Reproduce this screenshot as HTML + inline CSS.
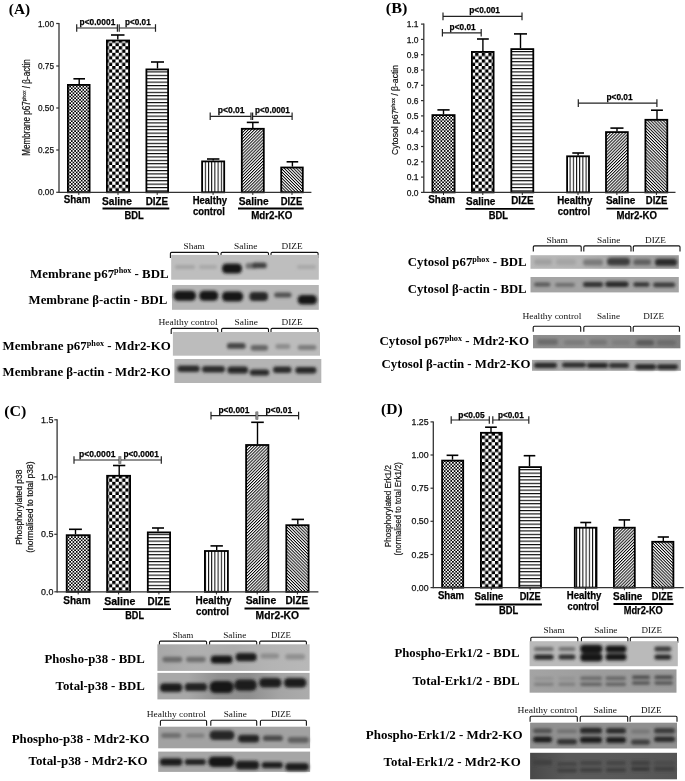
<!DOCTYPE html>
<html><head><meta charset="utf-8"><title>Figure</title>
<style>html,body{margin:0;padding:0;background:#fff;}svg{display:block;}</style></head>
<body>
<svg width="685" height="781" viewBox="0 0 685 781">
<defs>
<pattern id="pfine" patternUnits="userSpaceOnUse" width="3.3" height="3.3"><rect width="3.3" height="3.3" fill="#fff"/><rect width="1.65" height="1.65" fill="#000"/><rect x="1.65" y="1.65" width="1.65" height="1.65" fill="#000"/></pattern>
<pattern id="pbig" patternUnits="userSpaceOnUse" width="6.6" height="6.6"><rect width="6.6" height="6.6" fill="#fff"/><rect width="3.3" height="3.3" fill="#000"/><rect x="3.3" y="3.3" width="3.3" height="3.3" fill="#000"/></pattern>
<pattern id="phl" patternUnits="userSpaceOnUse" width="10" height="3.4"><rect width="10" height="3.4" fill="#fff"/><rect y="0" width="10" height="1.1" fill="#000"/></pattern>
<pattern id="pvl" patternUnits="userSpaceOnUse" width="3.2" height="10"><rect width="3.2" height="10" fill="#fff"/><rect x="0" width="1.0" height="10" fill="#000"/></pattern>
<pattern id="pd1" patternUnits="userSpaceOnUse" width="2.17" height="2.17" patternTransform="rotate(-45)"><rect width="2.17" height="2.17" fill="#fff"/><rect width="2.17" height="0.95" fill="#000"/></pattern>
<pattern id="pd2" patternUnits="userSpaceOnUse" width="2.17" height="2.17" patternTransform="rotate(45)"><rect width="2.17" height="2.17" fill="#fff"/><rect width="2.17" height="0.95" fill="#000"/></pattern>
<filter id="bl" x="-30%" y="-60%" width="160%" height="220%"><feGaussianBlur stdDeviation="1.5"/></filter>
</defs>
<rect width="685" height="781" fill="#fff"/>

<text x="8.8" y="13.8" font-family="'Liberation Serif', 'Times New Roman', serif" font-size="15" font-weight="bold" fill="#000" textLength="21.2" lengthAdjust="spacingAndGlyphs" >(A)</text>
<line x1="59.0" y1="23.0" x2="59.0" y2="192.9" stroke="#333" stroke-width="1.3"/>
<line x1="56.2" y1="23.5" x2="59.0" y2="23.5" stroke="#333" stroke-width="1.2"/>
<text x="38.0" y="26.6" font-family="'Liberation Sans', Arial, sans-serif" font-size="9.4" font-weight="normal" fill="#111" stroke="#111" stroke-width="0.25" textLength="16.0" lengthAdjust="spacingAndGlyphs" >1.00</text>
<line x1="56.2" y1="66.0" x2="59.0" y2="66.0" stroke="#333" stroke-width="1.2"/>
<text x="38.0" y="69.1" font-family="'Liberation Sans', Arial, sans-serif" font-size="9.4" font-weight="normal" fill="#111" stroke="#111" stroke-width="0.25" textLength="16.0" lengthAdjust="spacingAndGlyphs" >0.75</text>
<line x1="56.2" y1="108.0" x2="59.0" y2="108.0" stroke="#333" stroke-width="1.2"/>
<text x="38.0" y="111.1" font-family="'Liberation Sans', Arial, sans-serif" font-size="9.4" font-weight="normal" fill="#111" stroke="#111" stroke-width="0.25" textLength="16.0" lengthAdjust="spacingAndGlyphs" >0.50</text>
<line x1="56.2" y1="150.0" x2="59.0" y2="150.0" stroke="#333" stroke-width="1.2"/>
<text x="38.0" y="153.1" font-family="'Liberation Sans', Arial, sans-serif" font-size="9.4" font-weight="normal" fill="#111" stroke="#111" stroke-width="0.25" textLength="16.0" lengthAdjust="spacingAndGlyphs" >0.25</text>
<line x1="56.2" y1="192.3" x2="59.0" y2="192.3" stroke="#333" stroke-width="1.2"/>
<text x="38.0" y="195.4" font-family="'Liberation Sans', Arial, sans-serif" font-size="9.4" font-weight="normal" fill="#111" stroke="#111" stroke-width="0.25" textLength="16.0" lengthAdjust="spacingAndGlyphs" >0.00</text>
<rect x="67.90" y="84.90" width="21.70" height="107.40" fill="url(#pfine)" stroke="#000" stroke-width="1.8"/>
<line x1="79.2" y1="78.8" x2="79.2" y2="84.0" stroke="#000" stroke-width="1.4"/>
<line x1="73.4" y1="78.8" x2="85.0" y2="78.8" stroke="#000" stroke-width="1.6"/>
<rect x="106.90" y="40.50" width="22.20" height="151.80" fill="url(#pbig)" stroke="#000" stroke-width="1.8"/>
<line x1="117.8" y1="35.0" x2="117.8" y2="39.6" stroke="#000" stroke-width="1.4"/>
<line x1="111.0" y1="35.0" x2="124.5" y2="35.0" stroke="#000" stroke-width="1.6"/>
<rect x="146.40" y="69.40" width="21.70" height="122.90" fill="url(#phl)" stroke="#000" stroke-width="1.8"/>
<line x1="157.5" y1="62.0" x2="157.5" y2="68.5" stroke="#000" stroke-width="1.4"/>
<line x1="151.0" y1="62.0" x2="164.0" y2="62.0" stroke="#000" stroke-width="1.6"/>
<rect x="202.10" y="161.40" width="22.10" height="30.90" fill="url(#pvl)" stroke="#000" stroke-width="1.8"/>
<line x1="213.2" y1="159.0" x2="213.2" y2="160.5" stroke="#000" stroke-width="1.4"/>
<line x1="207.0" y1="159.0" x2="219.4" y2="159.0" stroke="#000" stroke-width="1.6"/>
<rect x="241.80" y="128.80" width="22.00" height="63.50" fill="url(#pd1)" stroke="#000" stroke-width="1.8"/>
<line x1="252.8" y1="122.4" x2="252.8" y2="127.9" stroke="#000" stroke-width="1.4"/>
<line x1="246.8" y1="122.4" x2="258.8" y2="122.4" stroke="#000" stroke-width="1.6"/>
<rect x="281.20" y="167.50" width="21.60" height="24.80" fill="url(#pd2)" stroke="#000" stroke-width="1.8"/>
<line x1="292.4" y1="161.8" x2="292.4" y2="166.6" stroke="#000" stroke-width="1.4"/>
<line x1="286.6" y1="161.8" x2="298.2" y2="161.8" stroke="#000" stroke-width="1.6"/>
<line x1="59.0" y1="192.3" x2="311.4" y2="192.3" stroke="#333" stroke-width="1.3"/>
<line x1="78.8" y1="192.3" x2="78.8" y2="194.9" stroke="#222" stroke-width="1.0"/>
<line x1="118.0" y1="192.3" x2="118.0" y2="194.9" stroke="#222" stroke-width="1.0"/>
<line x1="157.2" y1="192.3" x2="157.2" y2="194.9" stroke="#222" stroke-width="1.0"/>
<line x1="213.1" y1="192.3" x2="213.1" y2="194.9" stroke="#222" stroke-width="1.0"/>
<line x1="252.8" y1="192.3" x2="252.8" y2="194.9" stroke="#222" stroke-width="1.0"/>
<line x1="292.0" y1="192.3" x2="292.0" y2="194.9" stroke="#222" stroke-width="1.0"/>
<line x1="76.7" y1="28.0" x2="117.4" y2="28.0" stroke="#222" stroke-width="1.2"/>
<line x1="76.7" y1="24.2" x2="76.7" y2="31.8" stroke="#222" stroke-width="1.2"/>
<line x1="117.4" y1="24.2" x2="117.4" y2="31.8" stroke="#222" stroke-width="1.2"/>
<line x1="119.2" y1="28.0" x2="155.5" y2="28.0" stroke="#222" stroke-width="1.2"/>
<line x1="119.2" y1="24.2" x2="119.2" y2="31.8" stroke="#222" stroke-width="1.2"/>
<line x1="155.5" y1="24.2" x2="155.5" y2="31.8" stroke="#222" stroke-width="1.2"/>
<text x="79.6" y="24.7" font-family="'Liberation Sans', Arial, sans-serif" font-size="9.8" font-weight="bold" fill="#000" stroke="#000" stroke-width="0.25" textLength="35.7" lengthAdjust="spacingAndGlyphs" >p&lt;0.0001</text>
<text x="125.0" y="24.7" font-family="'Liberation Sans', Arial, sans-serif" font-size="9.8" font-weight="bold" fill="#000" stroke="#000" stroke-width="0.25" textLength="25.7" lengthAdjust="spacingAndGlyphs" >p&lt;0.01</text>
<line x1="210.2" y1="116.3" x2="251.0" y2="116.3" stroke="#222" stroke-width="1.2"/>
<line x1="210.2" y1="112.5" x2="210.2" y2="120.1" stroke="#222" stroke-width="1.2"/>
<line x1="251.0" y1="112.5" x2="251.0" y2="120.1" stroke="#222" stroke-width="1.2"/>
<line x1="252.6" y1="116.3" x2="292.1" y2="116.3" stroke="#222" stroke-width="1.2"/>
<line x1="252.6" y1="112.5" x2="252.6" y2="120.1" stroke="#222" stroke-width="1.2"/>
<line x1="292.1" y1="112.5" x2="292.1" y2="120.1" stroke="#222" stroke-width="1.2"/>
<text x="217.7" y="113.4" font-family="'Liberation Sans', Arial, sans-serif" font-size="9.8" font-weight="bold" fill="#000" stroke="#000" stroke-width="0.25" textLength="26.9" lengthAdjust="spacingAndGlyphs" >p&lt;0.01</text>
<text x="255.1" y="113.4" font-family="'Liberation Sans', Arial, sans-serif" font-size="9.8" font-weight="bold" fill="#000" stroke="#000" stroke-width="0.25" textLength="34.8" lengthAdjust="spacingAndGlyphs" >p&lt;0.0001</text>
<text x="63.8" y="203.0" font-family="'Liberation Sans', Arial, sans-serif" font-size="10.2" font-weight="bold" fill="#000" stroke="#000" stroke-width="0.25" textLength="26.7" lengthAdjust="spacingAndGlyphs" >Sham</text>
<text x="102.0" y="204.5" font-family="'Liberation Sans', Arial, sans-serif" font-size="10.2" font-weight="bold" fill="#000" stroke="#000" stroke-width="0.25" textLength="30.0" lengthAdjust="spacingAndGlyphs" >Saline</text>
<text x="145.7" y="204.5" font-family="'Liberation Sans', Arial, sans-serif" font-size="10.2" font-weight="bold" fill="#000" stroke="#000" stroke-width="0.25" textLength="22.5" lengthAdjust="spacingAndGlyphs" >DIZE</text>
<text x="192.7" y="203.6" font-family="'Liberation Sans', Arial, sans-serif" font-size="10.2" font-weight="bold" fill="#000" stroke="#000" stroke-width="0.25" textLength="34.3" lengthAdjust="spacingAndGlyphs" >Healthy</text>
<text x="193.0" y="215.0" font-family="'Liberation Sans', Arial, sans-serif" font-size="10.2" font-weight="bold" fill="#000" stroke="#000" stroke-width="0.25" textLength="32.0" lengthAdjust="spacingAndGlyphs" >control</text>
<text x="238.7" y="204.5" font-family="'Liberation Sans', Arial, sans-serif" font-size="10.2" font-weight="bold" fill="#000" stroke="#000" stroke-width="0.25" textLength="30.0" lengthAdjust="spacingAndGlyphs" >Saline</text>
<text x="280.7" y="204.5" font-family="'Liberation Sans', Arial, sans-serif" font-size="10.2" font-weight="bold" fill="#000" stroke="#000" stroke-width="0.25" textLength="21.5" lengthAdjust="spacingAndGlyphs" >DIZE</text>
<line x1="102.5" y1="208.5" x2="169.3" y2="208.5" stroke="#000" stroke-width="1.8"/>
<text x="124.4" y="219.0" font-family="'Liberation Sans', Arial, sans-serif" font-size="10.2" font-weight="bold" fill="#000" stroke="#000" stroke-width="0.25" textLength="19.3" lengthAdjust="spacingAndGlyphs" >BDL</text>
<line x1="238.0" y1="208.5" x2="303.7" y2="208.5" stroke="#000" stroke-width="1.8"/>
<text x="251.2" y="219.0" font-family="'Liberation Sans', Arial, sans-serif" font-size="10.2" font-weight="bold" fill="#000" stroke="#000" stroke-width="0.25" textLength="41.1" lengthAdjust="spacingAndGlyphs" >Mdr2-KO</text>
<text transform="translate(29.9,107.5) rotate(-90)" x="0" y="0" text-anchor="middle" font-family="'Liberation Sans', Arial, sans-serif" font-size="10" fill="#111" stroke="#111" stroke-width="0.2" textLength="96.6" lengthAdjust="spacingAndGlyphs">Membrane p67<tspan font-size="6.2" dy="-3.5">phox</tspan><tspan dy="3.5"> / β-actin</tspan></text>
<text x="385.8" y="12.8" font-family="'Liberation Serif', 'Times New Roman', serif" font-size="14.6" font-weight="bold" fill="#000" textLength="21.6" lengthAdjust="spacingAndGlyphs" >(B)</text>
<line x1="423.8" y1="23.6" x2="423.8" y2="193.0" stroke="#333" stroke-width="1.3"/>
<line x1="421.0" y1="192.4" x2="423.8" y2="192.4" stroke="#333" stroke-width="1.2"/>
<text x="406.8" y="195.5" font-family="'Liberation Sans', Arial, sans-serif" font-size="9.4" font-weight="normal" fill="#111" stroke="#111" stroke-width="0.25" textLength="11.8" lengthAdjust="spacingAndGlyphs" >0.0</text>
<line x1="421.0" y1="177.1" x2="423.8" y2="177.1" stroke="#333" stroke-width="1.2"/>
<text x="406.8" y="180.2" font-family="'Liberation Sans', Arial, sans-serif" font-size="9.4" font-weight="normal" fill="#111" stroke="#111" stroke-width="0.25" textLength="11.8" lengthAdjust="spacingAndGlyphs" >0.1</text>
<line x1="421.0" y1="161.8" x2="423.8" y2="161.8" stroke="#333" stroke-width="1.2"/>
<text x="406.8" y="164.9" font-family="'Liberation Sans', Arial, sans-serif" font-size="9.4" font-weight="normal" fill="#111" stroke="#111" stroke-width="0.25" textLength="11.8" lengthAdjust="spacingAndGlyphs" >0.2</text>
<line x1="421.0" y1="146.5" x2="423.8" y2="146.5" stroke="#333" stroke-width="1.2"/>
<text x="406.8" y="149.6" font-family="'Liberation Sans', Arial, sans-serif" font-size="9.4" font-weight="normal" fill="#111" stroke="#111" stroke-width="0.25" textLength="11.8" lengthAdjust="spacingAndGlyphs" >0.3</text>
<line x1="421.0" y1="131.2" x2="423.8" y2="131.2" stroke="#333" stroke-width="1.2"/>
<text x="406.8" y="134.3" font-family="'Liberation Sans', Arial, sans-serif" font-size="9.4" font-weight="normal" fill="#111" stroke="#111" stroke-width="0.25" textLength="11.8" lengthAdjust="spacingAndGlyphs" >0.4</text>
<line x1="421.0" y1="115.9" x2="423.8" y2="115.9" stroke="#333" stroke-width="1.2"/>
<text x="406.8" y="119.0" font-family="'Liberation Sans', Arial, sans-serif" font-size="9.4" font-weight="normal" fill="#111" stroke="#111" stroke-width="0.25" textLength="11.8" lengthAdjust="spacingAndGlyphs" >0.5</text>
<line x1="421.0" y1="100.6" x2="423.8" y2="100.6" stroke="#333" stroke-width="1.2"/>
<text x="406.8" y="103.7" font-family="'Liberation Sans', Arial, sans-serif" font-size="9.4" font-weight="normal" fill="#111" stroke="#111" stroke-width="0.25" textLength="11.8" lengthAdjust="spacingAndGlyphs" >0.6</text>
<line x1="421.0" y1="85.3" x2="423.8" y2="85.3" stroke="#333" stroke-width="1.2"/>
<text x="406.8" y="88.4" font-family="'Liberation Sans', Arial, sans-serif" font-size="9.4" font-weight="normal" fill="#111" stroke="#111" stroke-width="0.25" textLength="11.8" lengthAdjust="spacingAndGlyphs" >0.7</text>
<line x1="421.0" y1="70.0" x2="423.8" y2="70.0" stroke="#333" stroke-width="1.2"/>
<text x="406.8" y="73.1" font-family="'Liberation Sans', Arial, sans-serif" font-size="9.4" font-weight="normal" fill="#111" stroke="#111" stroke-width="0.25" textLength="11.8" lengthAdjust="spacingAndGlyphs" >0.8</text>
<line x1="421.0" y1="54.7" x2="423.8" y2="54.7" stroke="#333" stroke-width="1.2"/>
<text x="406.8" y="57.8" font-family="'Liberation Sans', Arial, sans-serif" font-size="9.4" font-weight="normal" fill="#111" stroke="#111" stroke-width="0.25" textLength="11.8" lengthAdjust="spacingAndGlyphs" >0.9</text>
<line x1="421.0" y1="39.4" x2="423.8" y2="39.4" stroke="#333" stroke-width="1.2"/>
<text x="406.8" y="42.5" font-family="'Liberation Sans', Arial, sans-serif" font-size="9.4" font-weight="normal" fill="#111" stroke="#111" stroke-width="0.25" textLength="11.8" lengthAdjust="spacingAndGlyphs" >1.0</text>
<line x1="421.0" y1="24.1" x2="423.8" y2="24.1" stroke="#333" stroke-width="1.2"/>
<text x="406.8" y="27.2" font-family="'Liberation Sans', Arial, sans-serif" font-size="9.4" font-weight="normal" fill="#111" stroke="#111" stroke-width="0.25" textLength="11.8" lengthAdjust="spacingAndGlyphs" >1.1</text>
<rect x="432.40" y="115.10" width="22.20" height="77.30" fill="url(#pfine)" stroke="#000" stroke-width="1.8"/>
<line x1="443.5" y1="109.9" x2="443.5" y2="114.2" stroke="#000" stroke-width="1.4"/>
<line x1="437.4" y1="109.9" x2="449.6" y2="109.9" stroke="#000" stroke-width="1.6"/>
<rect x="471.90" y="51.90" width="21.70" height="140.50" fill="url(#pbig)" stroke="#000" stroke-width="1.8"/>
<line x1="482.9" y1="39.0" x2="482.9" y2="51.0" stroke="#000" stroke-width="1.4"/>
<line x1="477.0" y1="39.0" x2="488.8" y2="39.0" stroke="#000" stroke-width="1.6"/>
<rect x="511.30" y="49.10" width="22.00" height="143.30" fill="url(#phl)" stroke="#000" stroke-width="1.8"/>
<line x1="520.5" y1="33.9" x2="520.5" y2="48.2" stroke="#000" stroke-width="1.4"/>
<line x1="514.0" y1="33.9" x2="527.0" y2="33.9" stroke="#000" stroke-width="1.6"/>
<rect x="567.10" y="156.30" width="21.90" height="36.10" fill="url(#pvl)" stroke="#000" stroke-width="1.8"/>
<line x1="578.1" y1="153.0" x2="578.1" y2="155.4" stroke="#000" stroke-width="1.4"/>
<line x1="572.3" y1="153.0" x2="584.0" y2="153.0" stroke="#000" stroke-width="1.6"/>
<rect x="606.00" y="132.10" width="21.80" height="60.30" fill="url(#pd1)" stroke="#000" stroke-width="1.8"/>
<line x1="617.0" y1="128.1" x2="617.0" y2="131.2" stroke="#000" stroke-width="1.4"/>
<line x1="610.4" y1="128.1" x2="623.5" y2="128.1" stroke="#000" stroke-width="1.6"/>
<rect x="645.40" y="119.80" width="21.90" height="72.60" fill="url(#pd2)" stroke="#000" stroke-width="1.8"/>
<line x1="657.0" y1="110.2" x2="657.0" y2="118.9" stroke="#000" stroke-width="1.4"/>
<line x1="651.0" y1="110.2" x2="662.9" y2="110.2" stroke="#000" stroke-width="1.6"/>
<line x1="423.8" y1="192.4" x2="675.5" y2="192.4" stroke="#333" stroke-width="1.3"/>
<line x1="443.5" y1="192.4" x2="443.5" y2="195.0" stroke="#222" stroke-width="1.0"/>
<line x1="482.8" y1="192.4" x2="482.8" y2="195.0" stroke="#222" stroke-width="1.0"/>
<line x1="522.3" y1="192.4" x2="522.3" y2="195.0" stroke="#222" stroke-width="1.0"/>
<line x1="578.0" y1="192.4" x2="578.0" y2="195.0" stroke="#222" stroke-width="1.0"/>
<line x1="616.9" y1="192.4" x2="616.9" y2="195.0" stroke="#222" stroke-width="1.0"/>
<line x1="656.4" y1="192.4" x2="656.4" y2="195.0" stroke="#222" stroke-width="1.0"/>
<line x1="442.4" y1="32.8" x2="481.2" y2="32.8" stroke="#222" stroke-width="1.2"/>
<line x1="442.4" y1="29.0" x2="442.4" y2="36.6" stroke="#222" stroke-width="1.2"/>
<line x1="481.2" y1="29.0" x2="481.2" y2="36.6" stroke="#222" stroke-width="1.2"/>
<text x="449.6" y="30.0" font-family="'Liberation Sans', Arial, sans-serif" font-size="9.8" font-weight="bold" fill="#000" stroke="#000" stroke-width="0.25" textLength="26.1" lengthAdjust="spacingAndGlyphs" >p&lt;0.01</text>
<line x1="443.0" y1="16.4" x2="522.0" y2="16.4" stroke="#222" stroke-width="1.2"/>
<line x1="443.0" y1="12.6" x2="443.0" y2="20.2" stroke="#222" stroke-width="1.2"/>
<line x1="522.0" y1="12.6" x2="522.0" y2="20.2" stroke="#222" stroke-width="1.2"/>
<text x="469.3" y="13.1" font-family="'Liberation Sans', Arial, sans-serif" font-size="9.8" font-weight="bold" fill="#000" stroke="#000" stroke-width="0.25" textLength="30.7" lengthAdjust="spacingAndGlyphs" >p&lt;0.001</text>
<line x1="578.3" y1="103.1" x2="656.9" y2="103.1" stroke="#222" stroke-width="1.2"/>
<line x1="578.3" y1="99.3" x2="578.3" y2="106.9" stroke="#222" stroke-width="1.2"/>
<line x1="656.9" y1="99.3" x2="656.9" y2="106.9" stroke="#222" stroke-width="1.2"/>
<text x="606.4" y="99.7" font-family="'Liberation Sans', Arial, sans-serif" font-size="9.8" font-weight="bold" fill="#000" stroke="#000" stroke-width="0.25" textLength="26.3" lengthAdjust="spacingAndGlyphs" >p&lt;0.01</text>
<text x="428.2" y="203.4" font-family="'Liberation Sans', Arial, sans-serif" font-size="10.2" font-weight="bold" fill="#000" stroke="#000" stroke-width="0.25" textLength="26.9" lengthAdjust="spacingAndGlyphs" >Sham</text>
<text x="466.0" y="204.7" font-family="'Liberation Sans', Arial, sans-serif" font-size="10.2" font-weight="bold" fill="#000" stroke="#000" stroke-width="0.25" textLength="29.4" lengthAdjust="spacingAndGlyphs" >Saline</text>
<text x="511.3" y="204.3" font-family="'Liberation Sans', Arial, sans-serif" font-size="10.2" font-weight="bold" fill="#000" stroke="#000" stroke-width="0.25" textLength="22.3" lengthAdjust="spacingAndGlyphs" >DIZE</text>
<text x="557.3" y="203.5" font-family="'Liberation Sans', Arial, sans-serif" font-size="10.2" font-weight="bold" fill="#000" stroke="#000" stroke-width="0.25" textLength="35.2" lengthAdjust="spacingAndGlyphs" >Healthy</text>
<text x="557.8" y="214.5" font-family="'Liberation Sans', Arial, sans-serif" font-size="10.2" font-weight="bold" fill="#000" stroke="#000" stroke-width="0.25" textLength="32.3" lengthAdjust="spacingAndGlyphs" >control</text>
<text x="605.9" y="204.3" font-family="'Liberation Sans', Arial, sans-serif" font-size="10.2" font-weight="bold" fill="#000" stroke="#000" stroke-width="0.25" textLength="29.4" lengthAdjust="spacingAndGlyphs" >Saline</text>
<text x="645.8" y="204.3" font-family="'Liberation Sans', Arial, sans-serif" font-size="10.2" font-weight="bold" fill="#000" stroke="#000" stroke-width="0.25" textLength="21.6" lengthAdjust="spacingAndGlyphs" >DIZE</text>
<line x1="465.4" y1="208.8" x2="534.7" y2="208.8" stroke="#000" stroke-width="1.8"/>
<text x="488.8" y="219.3" font-family="'Liberation Sans', Arial, sans-serif" font-size="10.2" font-weight="bold" fill="#000" stroke="#000" stroke-width="0.25" textLength="19.3" lengthAdjust="spacingAndGlyphs" >BDL</text>
<line x1="606.4" y1="208.7" x2="668.2" y2="208.7" stroke="#000" stroke-width="1.8"/>
<text x="616.4" y="219.3" font-family="'Liberation Sans', Arial, sans-serif" font-size="10.2" font-weight="bold" fill="#000" stroke="#000" stroke-width="0.25" textLength="40.5" lengthAdjust="spacingAndGlyphs" >Mdr2-KO</text>
<text transform="translate(398.4,110.0) rotate(-90)" x="0" y="0" text-anchor="middle" font-family="'Liberation Sans', Arial, sans-serif" font-size="9.6" fill="#111" stroke="#111" stroke-width="0.2" textLength="90.0" lengthAdjust="spacingAndGlyphs">Cytosol p67<tspan font-size="6" dy="-3.4">phox</tspan><tspan dy="3.4"> / β-actin</tspan></text>
<text x="4.2" y="415.5" font-family="'Liberation Serif', 'Times New Roman', serif" font-size="15" font-weight="bold" fill="#000" textLength="22.1" lengthAdjust="spacingAndGlyphs" >(C)</text>
<line x1="57.1" y1="419.3" x2="57.1" y2="592.4" stroke="#333" stroke-width="1.3"/>
<line x1="54.3" y1="419.8" x2="57.1" y2="419.8" stroke="#333" stroke-width="1.2"/>
<text x="41.0" y="422.9" font-family="'Liberation Sans', Arial, sans-serif" font-size="9.4" font-weight="normal" fill="#111" stroke="#111" stroke-width="0.25" textLength="12.4" lengthAdjust="spacingAndGlyphs" >1.5</text>
<line x1="54.3" y1="476.9" x2="57.1" y2="476.9" stroke="#333" stroke-width="1.2"/>
<text x="41.0" y="480.0" font-family="'Liberation Sans', Arial, sans-serif" font-size="9.4" font-weight="normal" fill="#111" stroke="#111" stroke-width="0.25" textLength="12.4" lengthAdjust="spacingAndGlyphs" >1.0</text>
<line x1="54.3" y1="534.3" x2="57.1" y2="534.3" stroke="#333" stroke-width="1.2"/>
<text x="41.0" y="537.4" font-family="'Liberation Sans', Arial, sans-serif" font-size="9.4" font-weight="normal" fill="#111" stroke="#111" stroke-width="0.25" textLength="12.4" lengthAdjust="spacingAndGlyphs" >0.5</text>
<line x1="54.3" y1="591.8" x2="57.1" y2="591.8" stroke="#333" stroke-width="1.2"/>
<text x="41.0" y="594.9" font-family="'Liberation Sans', Arial, sans-serif" font-size="9.4" font-weight="normal" fill="#111" stroke="#111" stroke-width="0.25" textLength="12.4" lengthAdjust="spacingAndGlyphs" >0.0</text>
<rect x="66.70" y="535.20" width="23.00" height="56.60" fill="url(#pfine)" stroke="#000" stroke-width="1.8"/>
<line x1="75.5" y1="529.3" x2="75.5" y2="534.3" stroke="#000" stroke-width="1.4"/>
<line x1="69.0" y1="529.3" x2="81.9" y2="529.3" stroke="#000" stroke-width="1.6"/>
<rect x="107.10" y="475.80" width="23.00" height="116.00" fill="url(#pbig)" stroke="#000" stroke-width="1.8"/>
<line x1="119.2" y1="465.5" x2="119.2" y2="474.9" stroke="#000" stroke-width="1.4"/>
<line x1="113.0" y1="465.5" x2="125.3" y2="465.5" stroke="#000" stroke-width="1.6"/>
<rect x="147.80" y="532.40" width="22.30" height="59.40" fill="url(#phl)" stroke="#000" stroke-width="1.8"/>
<line x1="158.0" y1="528.0" x2="158.0" y2="531.5" stroke="#000" stroke-width="1.4"/>
<line x1="152.0" y1="528.0" x2="164.0" y2="528.0" stroke="#000" stroke-width="1.6"/>
<rect x="204.90" y="551.00" width="23.00" height="40.80" fill="url(#pvl)" stroke="#000" stroke-width="1.8"/>
<line x1="216.7" y1="545.9" x2="216.7" y2="550.1" stroke="#000" stroke-width="1.4"/>
<line x1="210.5" y1="545.9" x2="222.9" y2="545.9" stroke="#000" stroke-width="1.6"/>
<rect x="246.10" y="445.00" width="22.30" height="146.80" fill="url(#pd1)" stroke="#000" stroke-width="1.8"/>
<line x1="257.5" y1="422.3" x2="257.5" y2="444.1" stroke="#000" stroke-width="1.4"/>
<line x1="251.2" y1="422.3" x2="263.8" y2="422.3" stroke="#000" stroke-width="1.6"/>
<rect x="286.30" y="525.20" width="22.30" height="66.60" fill="url(#pd2)" stroke="#000" stroke-width="1.8"/>
<line x1="297.8" y1="519.4" x2="297.8" y2="524.3" stroke="#000" stroke-width="1.4"/>
<line x1="291.6" y1="519.4" x2="304.0" y2="519.4" stroke="#000" stroke-width="1.6"/>
<line x1="57.1" y1="591.8" x2="318.4" y2="591.8" stroke="#333" stroke-width="1.3"/>
<line x1="78.2" y1="591.8" x2="78.2" y2="594.4" stroke="#222" stroke-width="1.0"/>
<line x1="118.6" y1="591.8" x2="118.6" y2="594.4" stroke="#222" stroke-width="1.0"/>
<line x1="158.9" y1="591.8" x2="158.9" y2="594.4" stroke="#222" stroke-width="1.0"/>
<line x1="216.4" y1="591.8" x2="216.4" y2="594.4" stroke="#222" stroke-width="1.0"/>
<line x1="257.2" y1="591.8" x2="257.2" y2="594.4" stroke="#222" stroke-width="1.0"/>
<line x1="297.4" y1="591.8" x2="297.4" y2="594.4" stroke="#222" stroke-width="1.0"/>
<line x1="74.0" y1="460.0" x2="119.2" y2="460.0" stroke="#222" stroke-width="1.2"/>
<line x1="74.0" y1="456.2" x2="74.0" y2="463.8" stroke="#222" stroke-width="1.2"/>
<line x1="119.2" y1="456.2" x2="119.2" y2="463.8" stroke="#222" stroke-width="1.2"/>
<line x1="120.6" y1="460.0" x2="161.3" y2="460.0" stroke="#222" stroke-width="1.2"/>
<line x1="120.6" y1="456.2" x2="120.6" y2="463.8" stroke="#222" stroke-width="1.2"/>
<line x1="161.3" y1="456.2" x2="161.3" y2="463.8" stroke="#222" stroke-width="1.2"/>
<line x1="119.9" y1="456.0" x2="119.9" y2="464.0" stroke="#888" stroke-width="2.2"/>
<text x="79.0" y="457.0" font-family="'Liberation Sans', Arial, sans-serif" font-size="9.8" font-weight="bold" fill="#000" stroke="#000" stroke-width="0.25" textLength="36.4" lengthAdjust="spacingAndGlyphs" >p&lt;0.0001</text>
<text x="123.4" y="457.0" font-family="'Liberation Sans', Arial, sans-serif" font-size="9.8" font-weight="bold" fill="#000" stroke="#000" stroke-width="0.25" textLength="35.4" lengthAdjust="spacingAndGlyphs" >p&lt;0.0001</text>
<line x1="211.0" y1="415.6" x2="256.2" y2="415.6" stroke="#222" stroke-width="1.2"/>
<line x1="211.0" y1="411.8" x2="211.0" y2="419.4" stroke="#222" stroke-width="1.2"/>
<line x1="256.2" y1="411.8" x2="256.2" y2="419.4" stroke="#222" stroke-width="1.2"/>
<line x1="257.6" y1="415.6" x2="298.6" y2="415.6" stroke="#222" stroke-width="1.2"/>
<line x1="257.6" y1="411.8" x2="257.6" y2="419.4" stroke="#222" stroke-width="1.2"/>
<line x1="298.6" y1="411.8" x2="298.6" y2="419.4" stroke="#222" stroke-width="1.2"/>
<line x1="256.9" y1="411.6" x2="256.9" y2="419.6" stroke="#888" stroke-width="2.2"/>
<text x="218.4" y="412.9" font-family="'Liberation Sans', Arial, sans-serif" font-size="9.8" font-weight="bold" fill="#000" stroke="#000" stroke-width="0.25" textLength="31.0" lengthAdjust="spacingAndGlyphs" >p&lt;0.001</text>
<text x="265.6" y="412.9" font-family="'Liberation Sans', Arial, sans-serif" font-size="9.8" font-weight="bold" fill="#000" stroke="#000" stroke-width="0.25" textLength="26.5" lengthAdjust="spacingAndGlyphs" >p&lt;0.01</text>
<text x="63.3" y="603.5" font-family="'Liberation Sans', Arial, sans-serif" font-size="10.2" font-weight="bold" fill="#000" stroke="#000" stroke-width="0.25" textLength="27.3" lengthAdjust="spacingAndGlyphs" >Sham</text>
<text x="104.2" y="604.7" font-family="'Liberation Sans', Arial, sans-serif" font-size="10.2" font-weight="bold" fill="#000" stroke="#000" stroke-width="0.25" textLength="31.1" lengthAdjust="spacingAndGlyphs" >Saline</text>
<text x="147.5" y="604.7" font-family="'Liberation Sans', Arial, sans-serif" font-size="10.2" font-weight="bold" fill="#000" stroke="#000" stroke-width="0.25" textLength="22.5" lengthAdjust="spacingAndGlyphs" >DIZE</text>
<text x="195.6" y="603.7" font-family="'Liberation Sans', Arial, sans-serif" font-size="10.2" font-weight="bold" fill="#000" stroke="#000" stroke-width="0.25" textLength="36.0" lengthAdjust="spacingAndGlyphs" >Healthy</text>
<text x="196.0" y="615.4" font-family="'Liberation Sans', Arial, sans-serif" font-size="10.2" font-weight="bold" fill="#000" stroke="#000" stroke-width="0.25" textLength="33.0" lengthAdjust="spacingAndGlyphs" >control</text>
<text x="245.7" y="604.2" font-family="'Liberation Sans', Arial, sans-serif" font-size="10.2" font-weight="bold" fill="#000" stroke="#000" stroke-width="0.25" textLength="30.5" lengthAdjust="spacingAndGlyphs" >Saline</text>
<text x="285.4" y="604.2" font-family="'Liberation Sans', Arial, sans-serif" font-size="10.2" font-weight="bold" fill="#000" stroke="#000" stroke-width="0.25" textLength="22.8" lengthAdjust="spacingAndGlyphs" >DIZE</text>
<line x1="103.0" y1="609.2" x2="171.0" y2="609.2" stroke="#000" stroke-width="1.8"/>
<text x="125.3" y="618.9" font-family="'Liberation Sans', Arial, sans-serif" font-size="10.2" font-weight="bold" fill="#000" stroke="#000" stroke-width="0.25" textLength="18.7" lengthAdjust="spacingAndGlyphs" >BDL</text>
<line x1="244.5" y1="608.5" x2="309.5" y2="608.5" stroke="#000" stroke-width="1.8"/>
<text x="255.6" y="618.9" font-family="'Liberation Sans', Arial, sans-serif" font-size="10.2" font-weight="bold" fill="#000" stroke="#000" stroke-width="0.25" textLength="43.4" lengthAdjust="spacingAndGlyphs" >Mdr2-KO</text>
<text transform="translate(22.3,507.2) rotate(-90)" x="0" y="0" text-anchor="middle" font-family="'Liberation Sans', Arial, sans-serif" font-size="9.5" fill="#111" stroke="#111" stroke-width="0.2" textLength="75.2" lengthAdjust="spacingAndGlyphs">Phosphorylated p38</text>
<text transform="translate(32.5,507.2) rotate(-90)" x="0" y="0" text-anchor="middle" font-family="'Liberation Sans', Arial, sans-serif" font-size="9.5" fill="#111" stroke="#111" stroke-width="0.2" textLength="91.3" lengthAdjust="spacingAndGlyphs">(normalised to total p38)</text>
<text x="381.1" y="414.0" font-family="'Liberation Serif', 'Times New Roman', serif" font-size="15" font-weight="bold" fill="#000" textLength="21.7" lengthAdjust="spacingAndGlyphs" >(D)</text>
<line x1="433.3" y1="421.4" x2="433.3" y2="588.2" stroke="#333" stroke-width="1.3"/>
<line x1="430.5" y1="587.6" x2="433.3" y2="587.6" stroke="#333" stroke-width="1.2"/>
<text x="411.5" y="590.7" font-family="'Liberation Sans', Arial, sans-serif" font-size="9.4" font-weight="normal" fill="#111" stroke="#111" stroke-width="0.25" textLength="17.1" lengthAdjust="spacingAndGlyphs" >0.00</text>
<line x1="430.5" y1="554.5" x2="433.3" y2="554.5" stroke="#333" stroke-width="1.2"/>
<text x="411.5" y="557.6" font-family="'Liberation Sans', Arial, sans-serif" font-size="9.4" font-weight="normal" fill="#111" stroke="#111" stroke-width="0.25" textLength="17.1" lengthAdjust="spacingAndGlyphs" >0.25</text>
<line x1="430.5" y1="521.3" x2="433.3" y2="521.3" stroke="#333" stroke-width="1.2"/>
<text x="411.5" y="524.4" font-family="'Liberation Sans', Arial, sans-serif" font-size="9.4" font-weight="normal" fill="#111" stroke="#111" stroke-width="0.25" textLength="17.1" lengthAdjust="spacingAndGlyphs" >0.50</text>
<line x1="430.5" y1="488.2" x2="433.3" y2="488.2" stroke="#333" stroke-width="1.2"/>
<text x="411.5" y="491.3" font-family="'Liberation Sans', Arial, sans-serif" font-size="9.4" font-weight="normal" fill="#111" stroke="#111" stroke-width="0.25" textLength="17.1" lengthAdjust="spacingAndGlyphs" >0.75</text>
<line x1="430.5" y1="455.0" x2="433.3" y2="455.0" stroke="#333" stroke-width="1.2"/>
<text x="411.5" y="458.1" font-family="'Liberation Sans', Arial, sans-serif" font-size="9.4" font-weight="normal" fill="#111" stroke="#111" stroke-width="0.25" textLength="17.1" lengthAdjust="spacingAndGlyphs" >1.00</text>
<line x1="430.5" y1="421.9" x2="433.3" y2="421.9" stroke="#333" stroke-width="1.2"/>
<text x="411.5" y="425.0" font-family="'Liberation Sans', Arial, sans-serif" font-size="9.4" font-weight="normal" fill="#111" stroke="#111" stroke-width="0.25" textLength="17.1" lengthAdjust="spacingAndGlyphs" >1.25</text>
<rect x="442.10" y="460.60" width="21.10" height="127.00" fill="url(#pfine)" stroke="#000" stroke-width="1.8"/>
<line x1="452.5" y1="455.3" x2="452.5" y2="459.7" stroke="#000" stroke-width="1.4"/>
<line x1="446.6" y1="455.3" x2="458.3" y2="455.3" stroke="#000" stroke-width="1.6"/>
<rect x="480.90" y="432.80" width="20.80" height="154.80" fill="url(#pbig)" stroke="#000" stroke-width="1.8"/>
<line x1="491.0" y1="427.2" x2="491.0" y2="431.9" stroke="#000" stroke-width="1.4"/>
<line x1="485.1" y1="427.2" x2="496.8" y2="427.2" stroke="#000" stroke-width="1.6"/>
<rect x="519.30" y="467.10" width="21.70" height="120.50" fill="url(#phl)" stroke="#000" stroke-width="1.8"/>
<line x1="529.5" y1="455.7" x2="529.5" y2="466.2" stroke="#000" stroke-width="1.4"/>
<line x1="523.7" y1="455.7" x2="535.3" y2="455.7" stroke="#000" stroke-width="1.6"/>
<rect x="574.80" y="527.70" width="21.70" height="59.90" fill="url(#pvl)" stroke="#000" stroke-width="1.8"/>
<line x1="585.8" y1="522.5" x2="585.8" y2="526.8" stroke="#000" stroke-width="1.4"/>
<line x1="580.3" y1="522.5" x2="591.2" y2="522.5" stroke="#000" stroke-width="1.6"/>
<rect x="613.90" y="527.70" width="20.90" height="59.90" fill="url(#pd1)" stroke="#000" stroke-width="1.8"/>
<line x1="624.4" y1="519.9" x2="624.4" y2="526.8" stroke="#000" stroke-width="1.4"/>
<line x1="618.6" y1="519.9" x2="630.1" y2="519.9" stroke="#000" stroke-width="1.6"/>
<rect x="652.20" y="541.80" width="21.20" height="45.80" fill="url(#pd2)" stroke="#000" stroke-width="1.8"/>
<line x1="663.3" y1="537.0" x2="663.3" y2="540.9" stroke="#000" stroke-width="1.4"/>
<line x1="657.7" y1="537.0" x2="668.9" y2="537.0" stroke="#000" stroke-width="1.6"/>
<line x1="433.3" y1="587.6" x2="683.7" y2="587.6" stroke="#333" stroke-width="1.3"/>
<line x1="452.6" y1="587.6" x2="452.6" y2="590.2" stroke="#222" stroke-width="1.0"/>
<line x1="491.3" y1="587.6" x2="491.3" y2="590.2" stroke="#222" stroke-width="1.0"/>
<line x1="530.1" y1="587.6" x2="530.1" y2="590.2" stroke="#222" stroke-width="1.0"/>
<line x1="585.6" y1="587.6" x2="585.6" y2="590.2" stroke="#222" stroke-width="1.0"/>
<line x1="624.4" y1="587.6" x2="624.4" y2="590.2" stroke="#222" stroke-width="1.0"/>
<line x1="662.8" y1="587.6" x2="662.8" y2="590.2" stroke="#222" stroke-width="1.0"/>
<line x1="451.2" y1="420.0" x2="489.3" y2="420.0" stroke="#222" stroke-width="1.2"/>
<line x1="451.2" y1="416.2" x2="451.2" y2="423.8" stroke="#222" stroke-width="1.2"/>
<line x1="489.3" y1="416.2" x2="489.3" y2="423.8" stroke="#222" stroke-width="1.2"/>
<line x1="492.8" y1="420.0" x2="528.8" y2="420.0" stroke="#222" stroke-width="1.2"/>
<line x1="492.8" y1="416.2" x2="492.8" y2="423.8" stroke="#222" stroke-width="1.2"/>
<line x1="528.8" y1="416.2" x2="528.8" y2="423.8" stroke="#222" stroke-width="1.2"/>
<text x="458.3" y="417.7" font-family="'Liberation Sans', Arial, sans-serif" font-size="9.8" font-weight="bold" fill="#000" stroke="#000" stroke-width="0.25" textLength="26.3" lengthAdjust="spacingAndGlyphs" >p&lt;0.05</text>
<text x="498.0" y="417.7" font-family="'Liberation Sans', Arial, sans-serif" font-size="9.8" font-weight="bold" fill="#000" stroke="#000" stroke-width="0.25" textLength="25.7" lengthAdjust="spacingAndGlyphs" >p&lt;0.01</text>
<text x="437.9" y="598.6" font-family="'Liberation Sans', Arial, sans-serif" font-size="10.2" font-weight="bold" fill="#000" stroke="#000" stroke-width="0.25" textLength="26.2" lengthAdjust="spacingAndGlyphs" >Sham</text>
<text x="474.6" y="599.8" font-family="'Liberation Sans', Arial, sans-serif" font-size="10.2" font-weight="bold" fill="#000" stroke="#000" stroke-width="0.25" textLength="28.7" lengthAdjust="spacingAndGlyphs" >Saline</text>
<text x="519.7" y="599.6" font-family="'Liberation Sans', Arial, sans-serif" font-size="10.2" font-weight="bold" fill="#000" stroke="#000" stroke-width="0.25" textLength="21.0" lengthAdjust="spacingAndGlyphs" >DIZE</text>
<text x="566.7" y="599.1" font-family="'Liberation Sans', Arial, sans-serif" font-size="10.2" font-weight="bold" fill="#000" stroke="#000" stroke-width="0.25" textLength="34.8" lengthAdjust="spacingAndGlyphs" >Healthy</text>
<text x="567.5" y="609.9" font-family="'Liberation Sans', Arial, sans-serif" font-size="10.2" font-weight="bold" fill="#000" stroke="#000" stroke-width="0.25" textLength="31.4" lengthAdjust="spacingAndGlyphs" >control</text>
<text x="613.0" y="599.6" font-family="'Liberation Sans', Arial, sans-serif" font-size="10.2" font-weight="bold" fill="#000" stroke="#000" stroke-width="0.25" textLength="29.3" lengthAdjust="spacingAndGlyphs" >Saline</text>
<text x="651.8" y="599.6" font-family="'Liberation Sans', Arial, sans-serif" font-size="10.2" font-weight="bold" fill="#000" stroke="#000" stroke-width="0.25" textLength="21.2" lengthAdjust="spacingAndGlyphs" >DIZE</text>
<line x1="475.3" y1="604.5" x2="541.9" y2="604.5" stroke="#000" stroke-width="1.8"/>
<text x="499.0" y="614.2" font-family="'Liberation Sans', Arial, sans-serif" font-size="10.2" font-weight="bold" fill="#000" stroke="#000" stroke-width="0.25" textLength="19.3" lengthAdjust="spacingAndGlyphs" >BDL</text>
<line x1="613.5" y1="604.0" x2="673.5" y2="604.0" stroke="#000" stroke-width="1.8"/>
<text x="623.7" y="613.9" font-family="'Liberation Sans', Arial, sans-serif" font-size="10.2" font-weight="bold" fill="#000" stroke="#000" stroke-width="0.25" textLength="39.1" lengthAdjust="spacingAndGlyphs" >Mdr2-KO</text>
<text transform="translate(390.5,506.1) rotate(-90)" x="0" y="0" text-anchor="middle" font-family="'Liberation Sans', Arial, sans-serif" font-size="9.2" fill="#111" stroke="#111" stroke-width="0.2" textLength="82.4" lengthAdjust="spacingAndGlyphs">Phosphorylated Erk1/2</text>
<text transform="translate(401.0,508.8) rotate(-90)" x="0" y="0" text-anchor="middle" font-family="'Liberation Sans', Arial, sans-serif" font-size="9.2" fill="#111" stroke="#111" stroke-width="0.2" textLength="93.2" lengthAdjust="spacingAndGlyphs">(normalised to total Erk1/2)</text>
<text x="183.6" y="249.1" font-family="'Liberation Serif', 'Times New Roman', serif" font-size="8.6" font-weight="normal" fill="#111" textLength="21.1" lengthAdjust="spacingAndGlyphs" >Sham</text>
<text x="234.0" y="249.1" font-family="'Liberation Serif', 'Times New Roman', serif" font-size="8.6" font-weight="normal" fill="#111" textLength="23.5" lengthAdjust="spacingAndGlyphs" >Saline</text>
<text x="281.6" y="249.1" font-family="'Liberation Serif', 'Times New Roman', serif" font-size="8.6" font-weight="normal" fill="#111" textLength="21.1" lengthAdjust="spacingAndGlyphs" >DIZE</text>
<path d="M170.4,257.9 L170.4,253.6 Q170.4,252.4 171.6,252.4 L217.1,252.4 Q218.3,252.4 218.3,253.6 L218.3,257.9" fill="none" stroke="#111" stroke-width="1.1"/>
<path d="M221.0,257.9 L221.0,253.6 Q221.0,252.4 222.2,252.4 L267.3,252.4 Q268.5,252.4 268.5,253.6 L268.5,257.9" fill="none" stroke="#111" stroke-width="1.1"/>
<path d="M271.0,257.9 L271.0,253.6 Q271.0,252.4 272.2,252.4 L316.9,252.4 Q318.1,252.4 318.1,253.6 L318.1,257.9" fill="none" stroke="#111" stroke-width="1.1"/>
<rect x="171.2" y="254.9" width="147.6" height="24.8" fill="#bebebe"/>
<g filter="url(#bl)">
<rect x="222.0" y="263.5" width="20.0" height="10.0" rx="4.5" ry="4.5" fill="#151515"/>
<rect x="245.6" y="263.0" width="11.4" height="5.8" rx="2.6" ry="2.6" fill="#707070"/>
<rect x="252.0" y="262.5" width="14.7" height="5.8" rx="2.6" ry="2.6" fill="#404040"/>
<rect x="175.0" y="265.0" width="20.0" height="4.0" rx="1.8" ry="1.8" fill="#a4a4a4"/>
<rect x="199.0" y="265.0" width="18.0" height="4.0" rx="1.8" ry="1.8" fill="#a8a8a8"/>
<rect x="297.0" y="265.0" width="19.0" height="4.0" rx="1.8" ry="1.8" fill="#a8a8a8"/>
</g>
<rect x="172.0" y="285.0" width="146.8" height="24.8" fill="#b6b6b6"/>
<g filter="url(#bl)">
<rect x="173.6" y="290.8" width="22.4" height="10.0" rx="4.5" ry="4.5" fill="#151515"/>
<rect x="199.2" y="290.8" width="19.1" height="10.0" rx="4.5" ry="4.5" fill="#151515"/>
<rect x="222.0" y="291.5" width="21.1" height="10.0" rx="4.5" ry="4.5" fill="#151515"/>
<rect x="249.4" y="292.0" width="18.6" height="9.0" rx="4.0" ry="4.0" fill="#252525"/>
<rect x="274.2" y="292.5" width="17.3" height="5.0" rx="2.2" ry="2.2" fill="#505050"/>
<rect x="297.7" y="295.0" width="19.2" height="9.5" rx="4.3" ry="4.3" fill="#151515"/>
</g>
<text x="158.4" y="324.7" font-family="'Liberation Serif', 'Times New Roman', serif" font-size="8.6" font-weight="normal" fill="#111" textLength="59.2" lengthAdjust="spacingAndGlyphs" >Healthy control</text>
<text x="234.5" y="324.7" font-family="'Liberation Serif', 'Times New Roman', serif" font-size="8.6" font-weight="normal" fill="#111" textLength="23.5" lengthAdjust="spacingAndGlyphs" >Saline</text>
<text x="281.6" y="324.7" font-family="'Liberation Serif', 'Times New Roman', serif" font-size="8.6" font-weight="normal" fill="#111" textLength="21.1" lengthAdjust="spacingAndGlyphs" >DIZE</text>
<path d="M171.2,333.9 L171.2,329.6 Q171.2,328.4 172.4,328.4 L216.6,328.4 Q217.8,328.4 217.8,329.6 L217.8,333.9" fill="none" stroke="#111" stroke-width="1.1"/>
<path d="M221.6,333.9 L221.6,329.6 Q221.6,328.4 222.8,328.4 L267.3,328.4 Q268.5,328.4 268.5,329.6 L268.5,333.9" fill="none" stroke="#111" stroke-width="1.1"/>
<path d="M271.0,333.9 L271.0,329.6 Q271.0,328.4 272.2,328.4 L316.8,328.4 Q318.0,328.4 318.0,329.6 L318.0,333.9" fill="none" stroke="#111" stroke-width="1.1"/>
<rect x="172.9" y="332.0" width="147.1" height="23.7" fill="#bcbcbc"/>
<g filter="url(#bl)">
<rect x="227.0" y="343.0" width="18.6" height="5.8" rx="2.6" ry="2.6" fill="#444"/>
<rect x="250.6" y="345.0" width="17.4" height="5.7" rx="2.6" ry="2.6" fill="#666"/>
<rect x="275.4" y="344.0" width="14.9" height="5.0" rx="2.2" ry="2.2" fill="#8c8c8c"/>
<rect x="297.7" y="345.0" width="18.7" height="5.0" rx="2.2" ry="2.2" fill="#7c7c7c"/>
</g>
<rect x="174.4" y="359.0" width="146.9" height="24.0" fill="#b4b4b4"/>
<g filter="url(#bl)">
<rect x="177.4" y="365.6" width="22.3" height="6.4" rx="2.9" ry="2.9" fill="#2a2a2a"/>
<rect x="202.0" y="366.0" width="23.0" height="6.5" rx="2.9" ry="2.9" fill="#2a2a2a"/>
<rect x="227.5" y="366.5" width="20.5" height="7.0" rx="3.1" ry="3.1" fill="#252525"/>
<rect x="249.8" y="369.4" width="19.4" height="6.2" rx="2.8" ry="2.8" fill="#252525"/>
<rect x="273.0" y="366.5" width="18.5" height="6.5" rx="2.9" ry="2.9" fill="#2a2a2a"/>
<rect x="295.3" y="367.0" width="21.1" height="6.5" rx="2.9" ry="2.9" fill="#252525"/>
</g>
<text x="30.1" y="277.5" font-family="'Liberation Serif', 'Times New Roman', serif" font-size="12.6" font-weight="bold" fill="#000" textLength="138.5" lengthAdjust="spacingAndGlyphs" >Membrane p67<tspan font-size="8" dy="-4.5">phox</tspan><tspan dy="4.5"> - BDL</tspan></text>
<text x="28.6" y="303.5" font-family="'Liberation Serif', 'Times New Roman', serif" font-size="12.6" font-weight="bold" fill="#000" textLength="138.7" lengthAdjust="spacingAndGlyphs" >Membrane β-actin - BDL</text>
<text x="2.6" y="350.3" font-family="'Liberation Serif', 'Times New Roman', serif" font-size="12.6" font-weight="bold" fill="#000" textLength="168.1" lengthAdjust="spacingAndGlyphs" >Membrane p67<tspan font-size="8" dy="-4.5">phox</tspan><tspan dy="4.5"> - Mdr2-KO</tspan></text>
<text x="2.6" y="375.6" font-family="'Liberation Serif', 'Times New Roman', serif" font-size="12.6" font-weight="bold" fill="#000" textLength="168.1" lengthAdjust="spacingAndGlyphs" >Membrane β-actin - Mdr2-KO</text>
<text x="546.4" y="242.8" font-family="'Liberation Serif', 'Times New Roman', serif" font-size="8.6" font-weight="normal" fill="#111" textLength="21.5" lengthAdjust="spacingAndGlyphs" >Sham</text>
<text x="597.1" y="242.8" font-family="'Liberation Serif', 'Times New Roman', serif" font-size="8.6" font-weight="normal" fill="#111" textLength="23.3" lengthAdjust="spacingAndGlyphs" >Saline</text>
<text x="645.0" y="242.8" font-family="'Liberation Serif', 'Times New Roman', serif" font-size="8.6" font-weight="normal" fill="#111" textLength="21.0" lengthAdjust="spacingAndGlyphs" >DIZE</text>
<path d="M533.3,251.4 L533.3,247.1 Q533.3,245.9 534.5,245.9 L580.0,245.9 Q581.2,245.9 581.2,247.1 L581.2,251.4" fill="none" stroke="#111" stroke-width="1.1"/>
<path d="M583.8,251.4 L583.8,247.1 Q583.8,245.9 585.0,245.9 L629.8,245.9 Q631.0,245.9 631.0,247.1 L631.0,251.4" fill="none" stroke="#111" stroke-width="1.1"/>
<path d="M633.3,251.4 L633.3,247.1 Q633.3,245.9 634.5,245.9 L678.8,245.9 Q680.0,245.9 680.0,247.1 L680.0,251.4" fill="none" stroke="#111" stroke-width="1.1"/>
<linearGradient id="g1" x1="0" y1="0" x2="1" y2="0"><stop offset="0.000" stop-color="#b8b8b8"/><stop offset="0.333" stop-color="#b4b4b4"/><stop offset="0.667" stop-color="#a2a2a2"/><stop offset="1.000" stop-color="#9c9c9c"/></linearGradient>
<rect x="530.5" y="255.2" width="148.3" height="13.6" fill="url(#g1)"/>
<g filter="url(#bl)">
<rect x="534.0" y="259.0" width="18.0" height="6.0" rx="2.7" ry="2.7" fill="#a0a0a0"/>
<rect x="556.0" y="259.0" width="20.0" height="6.0" rx="2.7" ry="2.7" fill="#a4a4a4"/>
<rect x="583.0" y="259.2" width="20.0" height="6.3" rx="2.8" ry="2.8" fill="#7a7a7a"/>
<rect x="607.0" y="257.8" width="23.0" height="7.7" rx="3.5" ry="3.5" fill="#3e3e3e"/>
<rect x="633.3" y="259.2" width="17.7" height="5.8" rx="2.6" ry="2.6" fill="#5e5e5e"/>
<rect x="655.0" y="258.8" width="22.0" height="7.0" rx="3.1" ry="3.1" fill="#2a2a2a"/>
</g>
<rect x="530.5" y="277.0" width="148.3" height="15.4" fill="#a4a4a4"/>
<g filter="url(#bl)">
<rect x="534.0" y="282.6" width="16.4" height="4.0" rx="1.8" ry="1.8" fill="#555"/>
<rect x="555.0" y="283.0" width="19.9" height="3.8" rx="1.7" ry="1.7" fill="#6a6a6a"/>
<rect x="583.0" y="282.0" width="20.0" height="5.0" rx="2.2" ry="2.2" fill="#2e2e2e"/>
<rect x="605.3" y="281.5" width="23.3" height="5.5" rx="2.5" ry="2.5" fill="#262626"/>
<rect x="633.3" y="282.2" width="16.3" height="4.6" rx="2.1" ry="2.1" fill="#303030"/>
<rect x="653.1" y="282.6" width="22.2" height="4.6" rx="2.1" ry="2.1" fill="#383838"/>
</g>
<text x="522.4" y="318.7" font-family="'Liberation Serif', 'Times New Roman', serif" font-size="8.6" font-weight="normal" fill="#111" textLength="59.0" lengthAdjust="spacingAndGlyphs" >Healthy control</text>
<text x="597.0" y="318.7" font-family="'Liberation Serif', 'Times New Roman', serif" font-size="8.6" font-weight="normal" fill="#111" textLength="23.0" lengthAdjust="spacingAndGlyphs" >Saline</text>
<text x="643.3" y="318.7" font-family="'Liberation Serif', 'Times New Roman', serif" font-size="8.6" font-weight="normal" fill="#111" textLength="20.7" lengthAdjust="spacingAndGlyphs" >DIZE</text>
<path d="M533.2,331.7 L533.2,327.4 Q533.2,326.2 534.4,326.2 L579.5,326.2 Q580.7,326.2 580.7,327.4 L580.7,331.7" fill="none" stroke="#111" stroke-width="1.1"/>
<path d="M583.8,331.7 L583.8,327.4 Q583.8,326.2 585.0,326.2 L629.6,326.2 Q630.8,326.2 630.8,327.4 L630.8,331.7" fill="none" stroke="#111" stroke-width="1.1"/>
<path d="M633.2,331.7 L633.2,327.4 Q633.2,326.2 634.4,326.2 L678.2,326.2 Q679.4,326.2 679.4,327.4 L679.4,331.7" fill="none" stroke="#111" stroke-width="1.1"/>
<linearGradient id="g2" x1="0" y1="0" x2="1" y2="0"><stop offset="0.000" stop-color="#8e8e8e"/><stop offset="0.333" stop-color="#909090"/><stop offset="0.667" stop-color="#8a8a8a"/><stop offset="1.000" stop-color="#7e7e7e"/></linearGradient>
<rect x="533.0" y="335.0" width="147.4" height="13.3" fill="url(#g2)"/>
<g filter="url(#bl)">
<rect x="537.0" y="339.0" width="21.0" height="6.0" rx="2.7" ry="2.7" fill="#6c6c6c"/>
<rect x="564.0" y="340.0" width="21.0" height="5.0" rx="2.2" ry="2.2" fill="#7c7c7c"/>
<rect x="589.0" y="339.5" width="18.0" height="5.5" rx="2.5" ry="2.5" fill="#767676"/>
<rect x="612.0" y="340.0" width="18.0" height="5.0" rx="2.2" ry="2.2" fill="#7e7e7e"/>
<rect x="636.0" y="340.0" width="18.0" height="5.5" rx="2.5" ry="2.5" fill="#5a5a5a"/>
<rect x="657.0" y="340.0" width="19.0" height="5.5" rx="2.5" ry="2.5" fill="#6c6c6c"/>
</g>
<rect x="532.0" y="359.9" width="148.9" height="10.9" fill="#a8a8a8"/>
<g filter="url(#bl)">
<rect x="534.0" y="362.8" width="23.0" height="5.3" rx="2.4" ry="2.4" fill="#252525"/>
<rect x="562.0" y="362.4" width="24.0" height="5.2" rx="2.3" ry="2.3" fill="#2a2a2a"/>
<rect x="587.0" y="362.8" width="21.0" height="5.3" rx="2.4" ry="2.4" fill="#222"/>
<rect x="609.0" y="363.0" width="20.0" height="5.1" rx="2.3" ry="2.3" fill="#2e2e2e"/>
<rect x="635.0" y="364.2" width="21.0" height="5.2" rx="2.3" ry="2.3" fill="#222"/>
<rect x="657.0" y="364.2" width="21.0" height="5.2" rx="2.3" ry="2.3" fill="#262626"/>
</g>
<text x="407.8" y="266.3" font-family="'Liberation Serif', 'Times New Roman', serif" font-size="12.6" font-weight="bold" fill="#000" textLength="118.8" lengthAdjust="spacingAndGlyphs" >Cytosol p67<tspan font-size="8" dy="-4.5">phox</tspan><tspan dy="4.5"> - BDL</tspan></text>
<text x="407.8" y="293.4" font-family="'Liberation Serif', 'Times New Roman', serif" font-size="12.6" font-weight="bold" fill="#000" textLength="118.8" lengthAdjust="spacingAndGlyphs" >Cytosol β-actin - BDL</text>
<text x="379.5" y="345.0" font-family="'Liberation Serif', 'Times New Roman', serif" font-size="12.6" font-weight="bold" fill="#000" textLength="149.5" lengthAdjust="spacingAndGlyphs" >Cytosol p67<tspan font-size="8" dy="-4.5">phox</tspan><tspan dy="4.5"> - Mdr2-KO</tspan></text>
<text x="381.5" y="368.4" font-family="'Liberation Serif', 'Times New Roman', serif" font-size="12.6" font-weight="bold" fill="#000" textLength="148.9" lengthAdjust="spacingAndGlyphs" >Cytosol β-actin - Mdr2-KO</text>
<text x="172.8" y="637.9" font-family="'Liberation Serif', 'Times New Roman', serif" font-size="8.6" font-weight="normal" fill="#111" textLength="20.6" lengthAdjust="spacingAndGlyphs" >Sham</text>
<text x="223.2" y="637.9" font-family="'Liberation Serif', 'Times New Roman', serif" font-size="8.6" font-weight="normal" fill="#111" textLength="23.1" lengthAdjust="spacingAndGlyphs" >Saline</text>
<text x="270.9" y="637.9" font-family="'Liberation Serif', 'Times New Roman', serif" font-size="8.6" font-weight="normal" fill="#111" textLength="20.1" lengthAdjust="spacingAndGlyphs" >DIZE</text>
<path d="M159.4,646.6 L159.4,642.3 Q159.4,641.1 160.6,641.1 L205.4,641.1 Q206.6,641.1 206.6,642.3 L206.6,646.6" fill="none" stroke="#111" stroke-width="1.1"/>
<path d="M209.6,646.6 L209.6,642.3 Q209.6,641.1 210.8,641.1 L255.5,641.1 Q256.7,641.1 256.7,642.3 L256.7,646.6" fill="none" stroke="#111" stroke-width="1.1"/>
<path d="M259.7,646.6 L259.7,642.3 Q259.7,641.1 260.9,641.1 L305.2,641.1 Q306.4,641.1 306.4,642.3 L306.4,646.6" fill="none" stroke="#111" stroke-width="1.1"/>
<linearGradient id="g3" x1="0" y1="0" x2="1" y2="0"><stop offset="0.000" stop-color="#a8a8a8"/><stop offset="0.250" stop-color="#b0b0b0"/><stop offset="0.500" stop-color="#acacac"/><stop offset="0.750" stop-color="#b4b4b4"/><stop offset="1.000" stop-color="#b8b8b8"/></linearGradient>
<rect x="157.4" y="644.3" width="152.2" height="26.6" fill="url(#g3)"/>
<g filter="url(#bl)">
<rect x="162.4" y="656.8" width="19.9" height="5.4" rx="2.4" ry="2.4" fill="#6a6a6a"/>
<rect x="186.0" y="656.8" width="19.8" height="5.4" rx="2.4" ry="2.4" fill="#707070"/>
<rect x="210.8" y="655.5" width="21.7" height="8.1" rx="3.6" ry="3.6" fill="#151515"/>
<rect x="235.6" y="653.0" width="21.1" height="8.2" rx="3.7" ry="3.7" fill="#1c1c1c"/>
<rect x="260.4" y="653.5" width="18.6" height="5.0" rx="2.2" ry="2.2" fill="#8c8c8c"/>
<rect x="285.3" y="654.0" width="19.8" height="5.5" rx="2.5" ry="2.5" fill="#909090"/>
</g>
<linearGradient id="g4" x1="0" y1="0" x2="1" y2="0"><stop offset="0.000" stop-color="#a8a8a8"/><stop offset="0.200" stop-color="#a8a8a8"/><stop offset="0.400" stop-color="#909090"/><stop offset="0.600" stop-color="#8e8e8e"/><stop offset="0.800" stop-color="#a4a4a4"/><stop offset="1.000" stop-color="#acacac"/></linearGradient>
<rect x="157.4" y="672.9" width="152.2" height="26.5" fill="url(#g4)"/>
<g filter="url(#bl)">
<rect x="160.0" y="683.3" width="22.3" height="8.7" rx="3.9" ry="3.9" fill="#1a1a1a"/>
<rect x="184.7" y="683.0" width="22.3" height="8.0" rx="3.6" ry="3.6" fill="#222"/>
<rect x="209.6" y="681.0" width="24.0" height="12.0" rx="5.4" ry="5.4" fill="#151515"/>
<rect x="234.4" y="679.6" width="22.3" height="11.1" rx="5.0" ry="5.0" fill="#1a1a1a"/>
<rect x="259.2" y="678.0" width="22.3" height="9.5" rx="4.3" ry="4.3" fill="#1e1e1e"/>
<rect x="284.0" y="678.0" width="22.4" height="9.5" rx="4.3" ry="4.3" fill="#1c1c1c"/>
</g>
<text x="146.7" y="716.8" font-family="'Liberation Serif', 'Times New Roman', serif" font-size="8.6" font-weight="normal" fill="#111" textLength="59.1" lengthAdjust="spacingAndGlyphs" >Healthy control</text>
<text x="223.7" y="716.8" font-family="'Liberation Serif', 'Times New Roman', serif" font-size="8.6" font-weight="normal" fill="#111" textLength="23.1" lengthAdjust="spacingAndGlyphs" >Saline</text>
<text x="270.9" y="716.8" font-family="'Liberation Serif', 'Times New Roman', serif" font-size="8.6" font-weight="normal" fill="#111" textLength="20.1" lengthAdjust="spacingAndGlyphs" >DIZE</text>
<path d="M160.4,725.8 L160.4,721.5 Q160.4,720.3 161.6,720.3 L205.4,720.3 Q206.6,720.3 206.6,721.5 L206.6,725.8" fill="none" stroke="#111" stroke-width="1.1"/>
<path d="M210.8,725.8 L210.8,721.5 Q210.8,720.3 212.0,720.3 L255.5,720.3 Q256.7,720.3 256.7,721.5 L256.7,725.8" fill="none" stroke="#111" stroke-width="1.1"/>
<path d="M260.4,725.8 L260.4,721.5 Q260.4,720.3 261.6,720.3 L305.2,720.3 Q306.4,720.3 306.4,721.5 L306.4,725.8" fill="none" stroke="#111" stroke-width="1.1"/>
<rect x="158.2" y="726.7" width="151.9" height="21.6" fill="#a2a2a2"/>
<g filter="url(#bl)">
<rect x="161.2" y="733.0" width="19.8" height="5.0" rx="2.2" ry="2.2" fill="#6e6e6e"/>
<rect x="186.0" y="733.4" width="18.6" height="4.3" rx="1.9" ry="1.9" fill="#7e7e7e"/>
<rect x="209.6" y="730.5" width="24.8" height="9.5" rx="4.3" ry="4.3" fill="#262626"/>
<rect x="238.1" y="734.7" width="21.1" height="7.9" rx="3.6" ry="3.6" fill="#222"/>
<rect x="262.9" y="735.5" width="19.9" height="5.5" rx="2.5" ry="2.5" fill="#484848"/>
<rect x="287.8" y="737.0" width="21.0" height="6.0" rx="2.7" ry="2.7" fill="#606060"/>
</g>
<rect x="158.2" y="751.6" width="151.9" height="20.3" fill="#a6a6a6"/>
<g filter="url(#bl)">
<rect x="160.0" y="758.3" width="22.3" height="7.4" rx="3.3" ry="3.3" fill="#1a1a1a"/>
<rect x="184.7" y="759.0" width="21.1" height="6.0" rx="2.7" ry="2.7" fill="#222"/>
<rect x="208.3" y="756.5" width="26.1" height="10.5" rx="4.7" ry="4.7" fill="#151515"/>
<rect x="235.6" y="760.7" width="23.6" height="8.9" rx="4.0" ry="4.0" fill="#1a1a1a"/>
<rect x="261.7" y="762.0" width="21.1" height="6.2" rx="2.8" ry="2.8" fill="#1e1e1e"/>
<rect x="285.3" y="763.0" width="23.5" height="7.7" rx="3.5" ry="3.5" fill="#1a1a1a"/>
</g>
<text x="44.4" y="663.4" font-family="'Liberation Serif', 'Times New Roman', serif" font-size="12.6" font-weight="bold" fill="#000" textLength="100.4" lengthAdjust="spacingAndGlyphs" >Phosho-p38 - BDL</text>
<text x="55.6" y="690.2" font-family="'Liberation Serif', 'Times New Roman', serif" font-size="12.6" font-weight="bold" fill="#000" textLength="89.2" lengthAdjust="spacingAndGlyphs" >Total-p38 - BDL</text>
<text x="11.7" y="742.8" font-family="'Liberation Serif', 'Times New Roman', serif" font-size="12.6" font-weight="bold" fill="#000" textLength="137.8" lengthAdjust="spacingAndGlyphs" >Phospho-p38 - Mdr2-KO</text>
<text x="28.5" y="765.0" font-family="'Liberation Serif', 'Times New Roman', serif" font-size="12.6" font-weight="bold" fill="#000" textLength="119.1" lengthAdjust="spacingAndGlyphs" >Total-p38 - Mdr2-KO</text>
<text x="543.6" y="633.2" font-family="'Liberation Serif', 'Times New Roman', serif" font-size="8.6" font-weight="normal" fill="#111" textLength="21.0" lengthAdjust="spacingAndGlyphs" >Sham</text>
<text x="594.2" y="633.2" font-family="'Liberation Serif', 'Times New Roman', serif" font-size="8.6" font-weight="normal" fill="#111" textLength="23.3" lengthAdjust="spacingAndGlyphs" >Saline</text>
<text x="641.6" y="633.2" font-family="'Liberation Serif', 'Times New Roman', serif" font-size="8.6" font-weight="normal" fill="#111" textLength="20.5" lengthAdjust="spacingAndGlyphs" >DIZE</text>
<path d="M530.8,642.8 L530.8,638.5 Q530.8,637.3 532.0,637.3 L576.6,637.3 Q577.8,637.3 577.8,638.5 L577.8,642.8" fill="none" stroke="#111" stroke-width="1.1"/>
<path d="M581.4,642.8 L581.4,638.5 Q581.4,637.3 582.6,637.3 L626.7,637.3 Q627.9,637.3 627.9,638.5 L627.9,642.8" fill="none" stroke="#111" stroke-width="1.1"/>
<path d="M630.3,642.8 L630.3,638.5 Q630.3,637.3 631.5,637.3 L676.6,637.3 Q677.8,637.3 677.8,638.5 L677.8,642.8" fill="none" stroke="#111" stroke-width="1.1"/>
<rect x="529.6" y="641.2" width="148.2" height="25.0" fill="#bababa"/>
<g filter="url(#bl)">
<rect x="534.0" y="647.0" width="19.7" height="4.0" rx="1.8" ry="1.8" fill="#6a6a6a"/>
<rect x="534.0" y="654.5" width="19.7" height="5.2" rx="2.3" ry="2.3" fill="#262626"/>
<rect x="558.5" y="647.0" width="16.9" height="4.0" rx="1.8" ry="1.8" fill="#707070"/>
<rect x="558.5" y="654.5" width="16.9" height="5.0" rx="2.2" ry="2.2" fill="#2e2e2e"/>
<rect x="580.2" y="644.8" width="22.3" height="8.2" rx="3.7" ry="3.7" fill="#121212"/>
<rect x="580.2" y="653.2" width="22.3" height="8.3" rx="3.7" ry="3.7" fill="#121212"/>
<rect x="605.5" y="645.5" width="21.0" height="7.0" rx="3.1" ry="3.1" fill="#181818"/>
<rect x="605.5" y="653.5" width="21.0" height="7.0" rx="3.1" ry="3.1" fill="#161616"/>
<rect x="654.4" y="646.5" width="16.9" height="5.0" rx="2.2" ry="2.2" fill="#3a3a3a"/>
<rect x="654.4" y="654.5" width="16.9" height="5.3" rx="2.4" ry="2.4" fill="#2a2a2a"/>
</g>
<linearGradient id="g5" x1="0" y1="0" x2="1" y2="0"><stop offset="0.000" stop-color="#a4a4a4"/><stop offset="0.500" stop-color="#9c9c9c"/><stop offset="1.000" stop-color="#9a9a9a"/></linearGradient>
<rect x="529.6" y="669.4" width="146.9" height="23.3" fill="url(#g5)"/>
<g filter="url(#bl)">
<rect x="534.0" y="677.0" width="19.7" height="3.0" rx="1.4" ry="1.4" fill="#929292"/>
<rect x="534.0" y="682.8" width="19.7" height="3.0" rx="1.4" ry="1.4" fill="#7c7c7c"/>
<rect x="558.5" y="677.0" width="16.9" height="3.0" rx="1.4" ry="1.4" fill="#929292"/>
<rect x="558.5" y="682.8" width="16.9" height="3.0" rx="1.4" ry="1.4" fill="#7a7a7a"/>
<rect x="580.2" y="676.6" width="21.8" height="3.4" rx="1.5" ry="1.5" fill="#686868"/>
<rect x="580.2" y="682.7" width="21.8" height="3.0" rx="1.4" ry="1.4" fill="#5a5a5a"/>
<rect x="605.5" y="676.6" width="20.5" height="3.4" rx="1.5" ry="1.5" fill="#646464"/>
<rect x="605.5" y="682.7" width="20.5" height="3.0" rx="1.4" ry="1.4" fill="#585858"/>
<rect x="632.0" y="675.6" width="18.0" height="3.4" rx="1.5" ry="1.5" fill="#4a4a4a"/>
<rect x="632.0" y="681.5" width="18.0" height="3.0" rx="1.4" ry="1.4" fill="#484848"/>
<rect x="654.4" y="675.6" width="18.6" height="3.4" rx="1.5" ry="1.5" fill="#4a4a4a"/>
<rect x="654.4" y="681.5" width="18.6" height="3.0" rx="1.4" ry="1.4" fill="#484848"/>
</g>
<text x="517.6" y="713.1" font-family="'Liberation Serif', 'Times New Roman', serif" font-size="8.6" font-weight="normal" fill="#111" textLength="59.7" lengthAdjust="spacingAndGlyphs" >Healthy control</text>
<text x="593.5" y="713.1" font-family="'Liberation Serif', 'Times New Roman', serif" font-size="8.6" font-weight="normal" fill="#111" textLength="23.5" lengthAdjust="spacingAndGlyphs" >Saline</text>
<text x="640.9" y="713.1" font-family="'Liberation Serif', 'Times New Roman', serif" font-size="8.6" font-weight="normal" fill="#111" textLength="20.7" lengthAdjust="spacingAndGlyphs" >DIZE</text>
<path d="M530.1,721.7 L530.1,717.4 Q530.1,716.2 531.3,716.2 L576.1,716.2 Q577.3,716.2 577.3,717.4 L577.3,721.7" fill="none" stroke="#111" stroke-width="1.1"/>
<path d="M580.2,721.7 L580.2,717.4 Q580.2,716.2 581.4,716.2 L626.5,716.2 Q627.7,716.2 627.7,717.4 L627.7,721.7" fill="none" stroke="#111" stroke-width="1.1"/>
<path d="M630.1,721.7 L630.1,717.4 Q630.1,716.2 631.3,716.2 L675.8,716.2 Q677.0,716.2 677.0,717.4 L677.0,721.7" fill="none" stroke="#111" stroke-width="1.1"/>
<rect x="530.1" y="722.7" width="146.9" height="25.8" fill="#909090"/>
<g filter="url(#bl)">
<rect x="533.0" y="728.5" width="19.0" height="4.7" rx="2.1" ry="2.1" fill="#505050"/>
<rect x="533.0" y="736.5" width="19.0" height="6.0" rx="2.7" ry="2.7" fill="#1e1e1e"/>
<rect x="557.0" y="729.5" width="20.0" height="3.5" rx="1.6" ry="1.6" fill="#6e6e6e"/>
<rect x="557.0" y="739.0" width="20.0" height="5.5" rx="2.5" ry="2.5" fill="#303030"/>
<rect x="580.0" y="727.8" width="22.0" height="5.7" rx="2.6" ry="2.6" fill="#262626"/>
<rect x="580.0" y="736.8" width="22.0" height="6.2" rx="2.8" ry="2.8" fill="#1c1c1c"/>
<rect x="606.0" y="728.0" width="20.0" height="5.5" rx="2.5" ry="2.5" fill="#2a2a2a"/>
<rect x="606.0" y="737.0" width="20.0" height="6.0" rx="2.7" ry="2.7" fill="#1e1e1e"/>
<rect x="631.0" y="729.5" width="19.0" height="4.0" rx="1.8" ry="1.8" fill="#767676"/>
<rect x="631.0" y="739.5" width="19.0" height="5.3" rx="2.4" ry="2.4" fill="#3e3e3e"/>
<rect x="654.0" y="728.0" width="21.0" height="5.5" rx="2.5" ry="2.5" fill="#3a3a3a"/>
<rect x="654.0" y="736.5" width="21.0" height="5.5" rx="2.5" ry="2.5" fill="#2a2a2a"/>
</g>
<linearGradient id="g6" x1="0" y1="0" x2="1" y2="0"><stop offset="0.000" stop-color="#484848"/><stop offset="0.250" stop-color="#5a5a5a"/><stop offset="0.500" stop-color="#5a5a5a"/><stop offset="0.750" stop-color="#585858"/><stop offset="1.000" stop-color="#555555"/></linearGradient>
<rect x="530.1" y="752.8" width="146.9" height="26.5" fill="url(#g6)"/>
<g filter="url(#bl)">
<rect x="533.0" y="760.0" width="19.0" height="5.0" rx="2.2" ry="2.2" fill="#404040"/>
<rect x="557.0" y="762.0" width="20.0" height="4.0" rx="1.8" ry="1.8" fill="#444444"/>
<rect x="580.0" y="761.0" width="22.0" height="4.0" rx="1.8" ry="1.8" fill="#444"/>
<rect x="606.0" y="761.0" width="20.0" height="4.0" rx="1.8" ry="1.8" fill="#444"/>
<rect x="631.0" y="761.0" width="19.0" height="4.0" rx="1.8" ry="1.8" fill="#3e3e3e"/>
<rect x="654.0" y="761.0" width="21.0" height="4.0" rx="1.8" ry="1.8" fill="#484848"/>
<rect x="557.0" y="768.5" width="20.0" height="4.0" rx="1.8" ry="1.8" fill="#3c3c3c"/>
<rect x="580.0" y="768.0" width="22.0" height="4.0" rx="1.8" ry="1.8" fill="#3e3e3e"/>
<rect x="606.0" y="768.0" width="20.0" height="4.0" rx="1.8" ry="1.8" fill="#3e3e3e"/>
<rect x="631.0" y="767.0" width="19.0" height="4.0" rx="1.8" ry="1.8" fill="#383838"/>
<rect x="654.0" y="767.0" width="21.0" height="4.0" rx="1.8" ry="1.8" fill="#3e3e3e"/>
</g>
<text x="394.5" y="656.8" font-family="'Liberation Serif', 'Times New Roman', serif" font-size="12.6" font-weight="bold" fill="#000" textLength="125.0" lengthAdjust="spacingAndGlyphs" >Phospho-Erk1/2 - BDL</text>
<text x="412.5" y="684.8" font-family="'Liberation Serif', 'Times New Roman', serif" font-size="12.6" font-weight="bold" fill="#000" textLength="107.0" lengthAdjust="spacingAndGlyphs" >Total-Erk1/2 - BDL</text>
<text x="365.8" y="739.3" font-family="'Liberation Serif', 'Times New Roman', serif" font-size="12.6" font-weight="bold" fill="#000" textLength="156.9" lengthAdjust="spacingAndGlyphs" >Phospho-Erk1/2 - Mdr2-KO</text>
<text x="383.5" y="765.7" font-family="'Liberation Serif', 'Times New Roman', serif" font-size="12.6" font-weight="bold" fill="#000" textLength="137.2" lengthAdjust="spacingAndGlyphs" >Total-Erk1/2 - Mdr2-KO</text>
</svg>
</body></html>
